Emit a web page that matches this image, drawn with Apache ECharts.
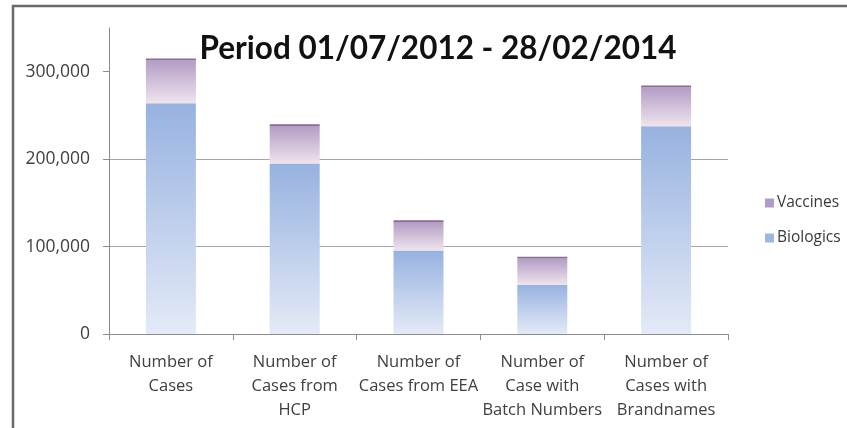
<!DOCTYPE html>
<html><head><meta charset="utf-8">
<script src="https://cdn.jsdelivr.net/npm/echarts@6/dist/echarts.min.js"></script>
<style>html,body{margin:0;padding:0;background:#fff}#c{width:847px;height:428px}</style>
</head><body><div id="c"></div>
<script>
const categories = ['Number of\nCases', 'Number of\nCases from\nHCP', 'Number of\nCases from EEA', 'Number of\nCase with\nBatch Numbers', 'Number of\nCases with\nBrandnames'];
const biologics = [264000, 195000, 95500, 56300, 237700];
const vaccines = [49000, 43000, 32500, 30000, 44500];
const yTicks = [0, 100000, 200000, 300000];
const titleText = 'Period 01/07/2012 - 28/02/2014';

const chart = echarts.init(document.getElementById('c'), null, {renderer: 'canvas'});
const font = '"Open Sans", sans-serif';
const grad = (a, b) => new echarts.graphic.LinearGradient(0, 0, 0, 1, [{offset: 0, color: a}, {offset: 1, color: b}]);
chart.setOption({
  animation: false,
  backgroundColor: '#fff',
  title: {
    text: titleText, left: 433, top: 28, textAlign: 'center',
    textStyle: {fontFamily: 'Lato, sans-serif', fontWeight: 'bold', fontSize: 31.5, color: '#111'}
  },
  legend: {
    orient: 'vertical', left: 760, top: 190, itemGap: 19,
    itemWidth: 9, itemHeight: 9, icon: 'rect',
    data: [{name: 'Vaccines', itemStyle: {color: '#b09cc4', borderWidth: 0}}, {name: 'Biologics', itemStyle: {color: '#9db6e2', borderWidth: 0}}],
    textStyle: {fontFamily: font, fontSize: 15.5, color: '#3a3a3a', padding: [0, 0, 0, -2]}
  },
  grid: {left: 109, right: 119, top: 28, bottom: 94, containLabel: false},
  xAxis: {
    type: 'category', data: categories,
    axisLine: {lineStyle: {color: '#8c8c8c', width: 1}},
    axisTick: {show: true, length: 6, lineStyle: {color: '#8c8c8c'}},
    axisLabel: {fontFamily: font, fontSize: 16.5, color: '#404040', lineHeight: 24, margin: 16, interval: 0}
  },
  yAxis: {
    type: 'value', min: 0, max: 350000, interval: 100000,
    axisLine: {show: true, lineStyle: {color: '#8c8c8c', width: 1}},
    axisTick: {show: true, length: 6, customValues: yTicks, lineStyle: {color: '#8c8c8c'}},
    axisLabel: {customValues: yTicks, fontFamily: font, fontSize: 17.5, color: '#404040', margin: 19,
      formatter: v => v.toLocaleString('en-US')},
    splitLine: {show: true, showMaxLine: false, lineStyle: {color: '#a6a6a6', width: 1}}
  },
  series: [
    {name: 'Biologics', type: 'bar', stack: 's', data: biologics, barWidth: 50,
      itemStyle: {color: grad('#97b2e0', '#e4eaf7')}},
    {name: 'Vaccines', type: 'bar', stack: 's', data: vaccines, barWidth: 50,
      itemStyle: {color: grad('#b39dc6', '#efe4ed')}},
    {name: 'cap', type: 'bar', stack: 's', data: vaccines.map(() => 2000), barWidth: 50,
      itemStyle: {color: '#8d6b93'}, silent: true}
  ],
  graphic: [{type: 'rect', shape: {x: 13, y: 6, width: 1000, height: 600},
    style: {fill: 'none', stroke: '#6a6a6a', lineWidth: 2.5}, silent: true}]
});
</script></body></html>
